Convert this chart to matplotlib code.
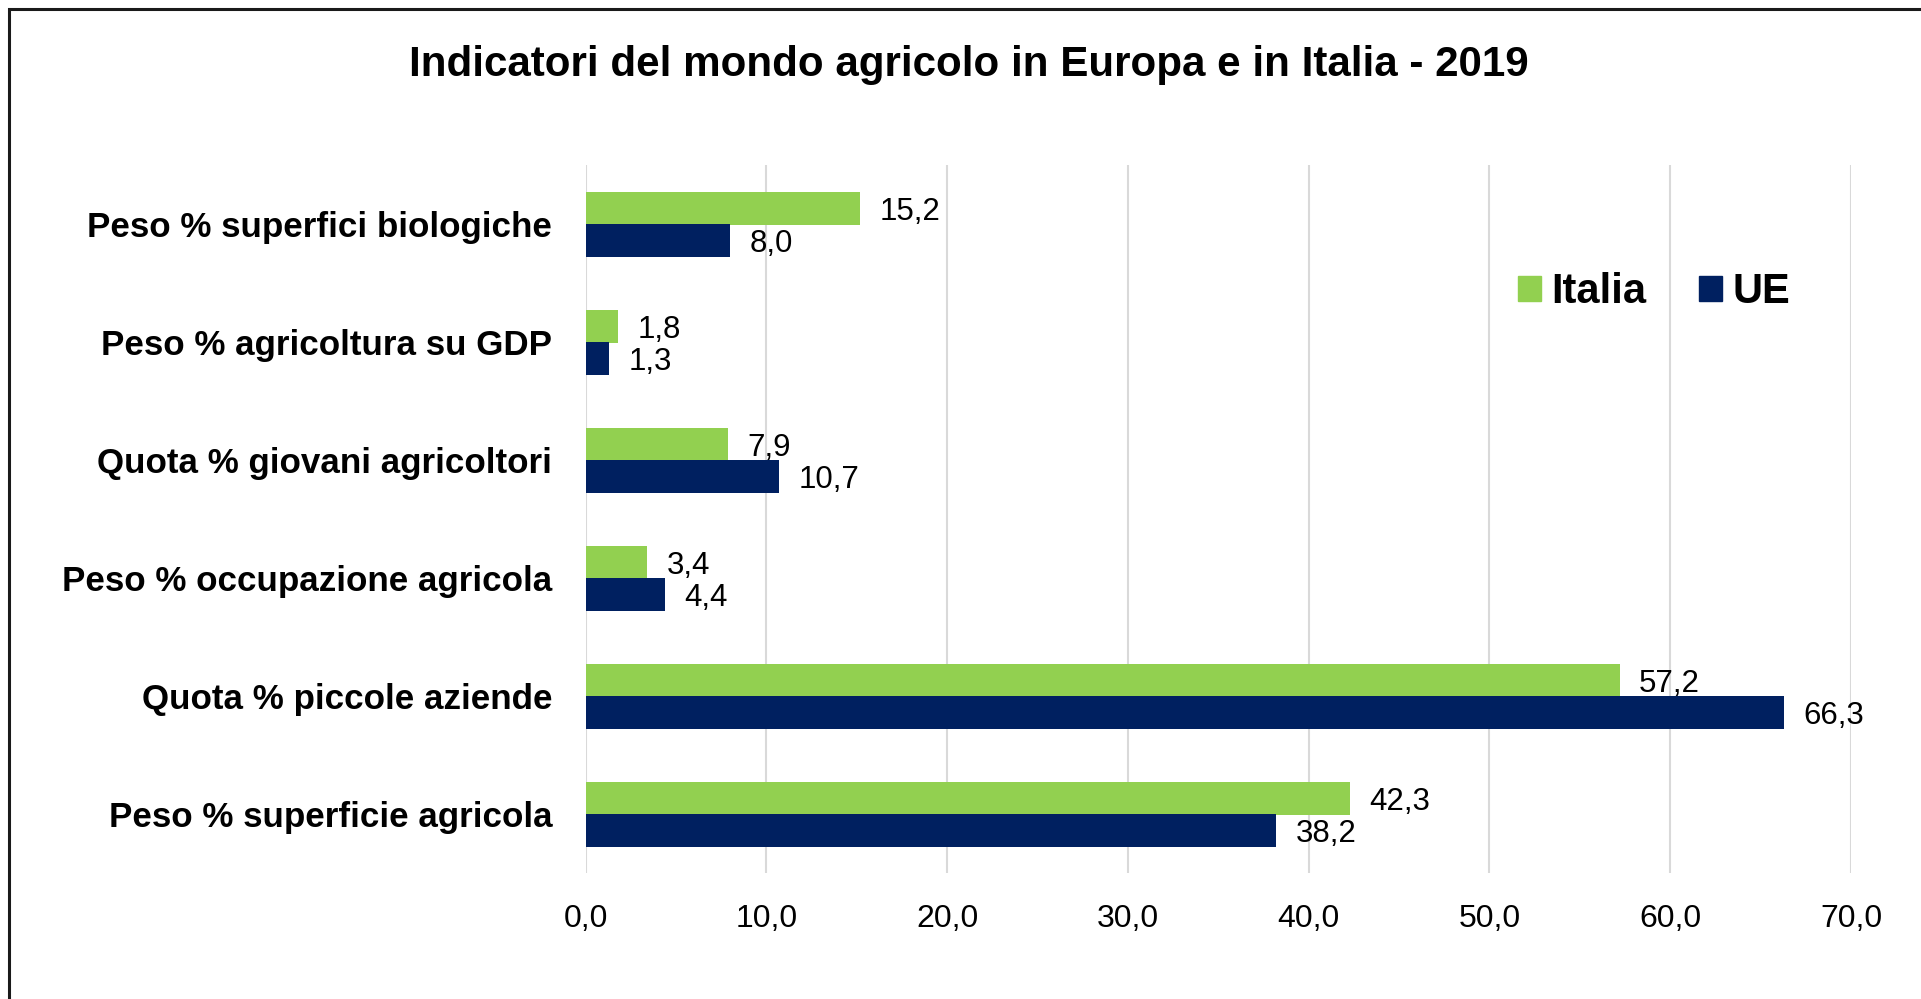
import matplotlib.pyplot as plt
import matplotlib.patches as mpatches
import numpy as np

plt.rcParams['font.family'] = ['Liberation Sans', 'DejaVu Sans']

categories = ["Peso % superfici biologiche", "Peso % agricoltura su GDP", "Quota % giovani agricoltori",
              "Peso % occupazione agricola", "Quota % piccole aziende", "Peso % superficie agricola"]
italia = [15.2, 1.8, 7.9, 3.4, 57.2, 42.3]
ue = [8.0, 1.3, 10.7, 4.4, 66.3, 38.2]
x_ticks = [0, 10, 20, 30, 40, 50, 60, 70]

green = '#92D050'
navy = '#002060'


def fmt(v):
    return ('%.1f' % v).replace('.', ',')


fig = plt.figure(figsize=(19.21, 9.99), dpi=100)
ax = fig.add_axes([0.3048, 0.1261, 0.6588, 0.7087])

y = np.arange(len(categories))
h = 0.28
ax.barh(y - 0.13, italia, height=h, color=green, label='Italia', zorder=3)
ax.barh(y + 0.14, ue, height=h, color=navy, label='UE', zorder=3)

for i in range(len(categories)):
    ax.annotate(fmt(italia[i]), (italia[i], y[i] - 0.13), xytext=(14, -2.5), textcoords='offset points',
                ha='left', va='center', fontsize=22.5, zorder=4)
    ax.annotate(fmt(ue[i]), (ue[i], y[i] + 0.14), xytext=(14, -2.5), textcoords='offset points',
                ha='left', va='center', fontsize=22.5, zorder=4)

ax.set_ylim(len(categories) - 0.5, -0.5)
ax.set_xlim(0, 70)
ax.set_xticks(x_ticks)
ax.set_xticklabels([fmt(t) for t in x_ticks], fontsize=23)
ax.set_yticks(y)
ax.set_yticklabels(categories, fontsize=25.2, fontweight='bold')
ax.tick_params(axis='x', length=0, pad=22)
ax.tick_params(axis='y', length=0, pad=24)
ax.grid(axis='x', color='#D9D9D9', linewidth=1.5, zorder=0)
for s in ax.spines.values():
    s.set_visible(False)

fig.text(0.5045, 1 - 65 / 999, "Indicatori del mondo agricolo in Europa e in Italia - 2019",
         ha='center', va='center', fontsize=30.3, fontweight='bold')

handles = [mpatches.Patch(color=green), mpatches.Patch(color=navy)]
fig.legend(handles, ['Italia', 'UE'], loc='center left', bbox_to_anchor=(1518 / 1921, 1 - 292 / 999),
           ncol=2, frameon=False, prop={'size': 30, 'weight': 'bold'}, handlelength=0.55, handleheight=0.55,
           handletextpad=0.25, columnspacing=1.27, borderpad=0, borderaxespad=0)

# outer frame, cut by the right and bottom edges of the image
fig.patches.append(mpatches.Rectangle((9 / 1921, -0.1), 1.2, 0.1 + 1 - 9 / 999, transform=fig.transFigure,
                                      fill=False, edgecolor='#1a1a1a', linewidth=2.2, zorder=10))

plt.savefig('out.png', dpi=100)
